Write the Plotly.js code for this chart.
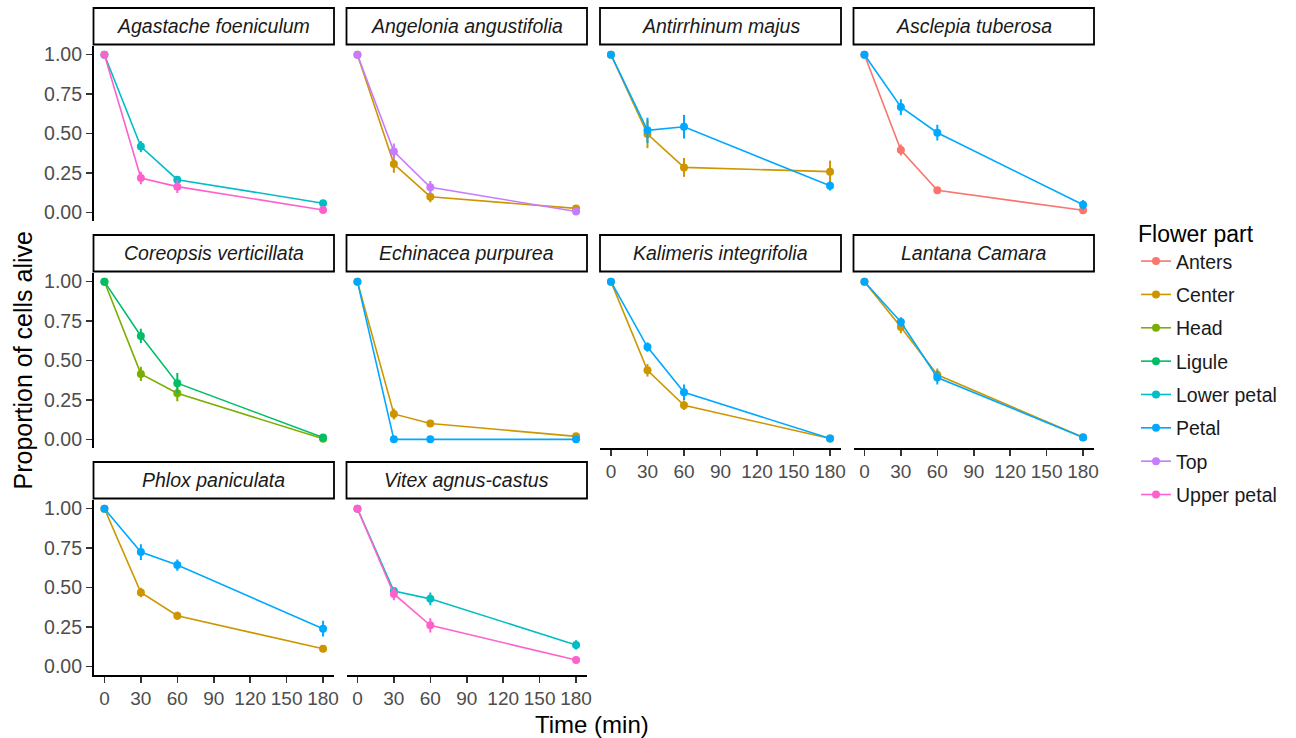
<!DOCTYPE html>
<html>
<head>
<meta charset="utf-8">
<script src="https://cdn.plot.ly/plotly-3.0.1.min.js"></script>
<style>
  html, body { margin: 0; padding: 0; background: #ffffff; }
  #chart { width: 1296px; height: 738px; }
</style>
</head>
<body>
<div id="chart"></div>
<script>
// Survival of cells over time, one facet per plant species, one line per flower part.
const timesMin = [0, 30, 60, 180];
const xTickVals = [0, 30, 60, 90, 120, 150, 180];
const yTickVals = [0, 0.25, 0.5, 0.75, 1];
const yTickText = ['0.00', '0.25', '0.50', '0.75', '1.00'];

const parts = ['Anters', 'Center', 'Head', 'Ligule', 'Lower petal', 'Petal', 'Top', 'Upper petal'];
const partColors = ['#F8766D', '#CD9600', '#7CAE00', '#00BE67', '#00BFC4', '#00A9FF', '#C77CFF', '#FF61CC'];

const species = [
  'Agastache foeniculum', 'Angelonia angustifolia', 'Antirrhinum majus', 'Asclepia tuberosa',
  'Coreopsis verticillata', 'Echinacea purpurea', 'Kalimeris integrifolia', 'Lantana Camara',
  'Phlox paniculata', 'Vitex agnus-castus'
];

// Mean proportion of cells alive and its standard error, per species and flower part
const agastacheLowerPetal = [1, 0.417, 0.207, 0.058];
const agastacheLowerPetalSe = [0, 0.035, 0.02, 0.015];
const agastacheUpperPetal = [1, 0.218, 0.163, 0.015];
const agastacheUpperPetalSe = [0, 0.04, 0.04, 0.01];

const angeloniaCenter = [1, 0.306, 0.099, 0.025];
const angeloniaCenterSe = [0, 0.055, 0.035, 0.01];
const angeloniaTop = [1, 0.386, 0.159, 0.005];
const angeloniaTopSe = [0, 0.05, 0.04, 0.01];

const antirrhinumCenter = [1, 0.497, 0.285, 0.258];
const antirrhinumCenterSe = [0, 0.09, 0.06, 0.07];
const antirrhinumPetal = [1, 0.52, 0.543, 0.168];
const antirrhinumPetalSe = [0, 0.08, 0.075, 0.03];

const asclepiaAnters = [1, 0.395, 0.14, 0.013];
const asclepiaAntersSe = [0, 0.035, 0.015, 0.01];
const asclepiaPetal = [1, 0.668, 0.505, 0.048];
const asclepiaPetalSe = [0, 0.05, 0.05, 0.03];

const coreopsisHead = [1, 0.415, 0.292, 0.003];
const coreopsisHeadSe = [0, 0.045, 0.05, 0.01];
const coreopsisLigule = [1, 0.656, 0.356, 0.012];
const coreopsisLiguleSe = [0, 0.045, 0.065, 0.01];

const echinaceaCenter = [1, 0.161, 0.10, 0.019];
const echinaceaCenterSe = [0, 0.035, 0.015, 0.01];
const echinaceaPetal = [1, 0.0, 0.0, 0.0];
const echinaceaPetalSe = [0, 0, 0, 0];

const kalimerisCenter = [1, 0.438, 0.216, 0.005];
const kalimerisCenterSe = [0, 0.04, 0.03, 0.005];
const kalimerisPetal = [1, 0.585, 0.298, 0.005];
const kalimerisPetalSe = [0, 0.03, 0.05, 0.005];

const lantanaCenter = [1, 0.713, 0.409, 0.013];
const lantanaCenterSe = [0, 0.04, 0.04, 0.005];
const lantanaPetal = [1, 0.744, 0.392, 0.012];
const lantanaPetalSe = [0, 0.03, 0.045, 0.005];

const phloxCenter = [1, 0.468, 0.321, 0.111];
const phloxCenterSe = [0, 0.03, 0.025, 0.01];
const phloxPetal = [1, 0.725, 0.642, 0.239];
const phloxPetalSe = [0, 0.05, 0.035, 0.05];

const vitexLowerPetal = [1, 0.478, 0.428, 0.136];
const vitexLowerPetalSe = [0, 0.02, 0.04, 0.03];
const vitexUpperPetal = [1, 0.459, 0.26, 0.04];
const vitexUpperPetalSe = [0, 0.04, 0.045, 0.01];

// [species index, flower part, means, standard errors]
const seriesList = [
  [0, 'Lower petal', agastacheLowerPetal, agastacheLowerPetalSe],
  [0, 'Upper petal', agastacheUpperPetal, agastacheUpperPetalSe],
  [1, 'Center', angeloniaCenter, angeloniaCenterSe],
  [1, 'Top', angeloniaTop, angeloniaTopSe],
  [2, 'Center', antirrhinumCenter, antirrhinumCenterSe],
  [2, 'Petal', antirrhinumPetal, antirrhinumPetalSe],
  [3, 'Anters', asclepiaAnters, asclepiaAntersSe],
  [3, 'Petal', asclepiaPetal, asclepiaPetalSe],
  [4, 'Head', coreopsisHead, coreopsisHeadSe],
  [4, 'Ligule', coreopsisLigule, coreopsisLiguleSe],
  [5, 'Center', echinaceaCenter, echinaceaCenterSe],
  [5, 'Petal', echinaceaPetal, echinaceaPetalSe],
  [6, 'Center', kalimerisCenter, kalimerisCenterSe],
  [6, 'Petal', kalimerisPetal, kalimerisPetalSe],
  [7, 'Center', lantanaCenter, lantanaCenterSe],
  [7, 'Petal', lantanaPetal, lantanaPetalSe],
  [8, 'Center', phloxCenter, phloxCenterSe],
  [8, 'Petal', phloxPetal, phloxPetalSe],
  [9, 'Lower petal', vitexLowerPetal, vitexLowerPetalSe],
  [9, 'Upper petal', vitexUpperPetal, vitexUpperPetalSe]
];

// ---- page geometry (pixels) ----
const W = 1296, H = 738;
const colSpans = [[93.5, 334], [346.5, 587], [600, 841], [853.5, 1094]];
const rowSpans = [[46, 221], [273, 448], [500, 675]];
const stripH = 36.5;
const FONT = 'Liberation Sans, Arial, sans-serif';
const fx = p => p / W;
const fy = p => 1 - p / H;

const nCols = 4;
const panelCount = species.length;
// panels that carry tick labels along the bottom / left
const hasXAxis = i => (i + nCols >= panelCount);
const hasYAxis = i => (i % nCols === 0);

const layout = {
  width: W, height: H,
  margin: {l: 0, r: 0, t: 0, b: 0},
  paper_bgcolor: '#ffffff',
  plot_bgcolor: '#ffffff',
  font: {family: FONT, color: '#000000'},
  showlegend: true,
  legend: {
    x: fx(1136), y: fy(212), xanchor: 'left', yanchor: 'top',
    title: {text: 'Flower part', font: {size: 23, family: FONT, color: '#000000'}},
    font: {size: 19.5, family: FONT, color: '#1a1a1a'},
    tracegroupgap: 5,
    itemwidth: 30,
    bgcolor: 'rgba(0,0,0,0)'
  },
  shapes: [],
  annotations: []
};

for (let i = 0; i < panelCount; i++) {
  const c = i % nCols, r = Math.floor(i / nCols);
  const sfx = i === 0 ? '' : String(i + 1);
  const [x0, x1] = colSpans[c];
  const [y0, y1] = rowSpans[r];
  const showX = hasXAxis(i), showY = hasYAxis(i);

  layout['xaxis' + sfx] = {
    domain: [fx(x0), fx(x1)],
    anchor: 'y' + sfx,
    range: [-9, 189],
    fixedrange: true,
    visible: showX,
    showline: showX, linecolor: '#000000', linewidth: 1.6,
    ticks: showX ? 'outside' : '', ticklen: 6, tickwidth: 1.6, tickcolor: '#333333',
    tickmode: 'array', tickvals: xTickVals, ticktext: xTickVals.map(String),
    tickfont: {size: 19, family: FONT, color: '#4d4d4d'},
    showgrid: false, zeroline: false
  };
  layout['yaxis' + sfx] = {
    domain: [fy(y1), fy(y0)],
    anchor: 'x' + sfx,
    range: [-0.055, 1.055],
    fixedrange: true,
    visible: showY,
    showline: showY, linecolor: '#000000', linewidth: 1.6,
    ticks: showY ? 'outside' : '', ticklen: 6, tickwidth: 1.6, tickcolor: '#333333',
    tickmode: 'array', tickvals: yTickVals, ticktext: yTickText,
    tickfont: {size: 19.5, family: FONT, color: '#4d4d4d'},
    showgrid: false, zeroline: false
  };

  // facet strip
  layout.shapes.push({
    type: 'rect', xref: 'paper', yref: 'paper',
    x0: fx(x0), x1: fx(x1), y0: fy(y0 - 1.5), y1: fy(y0 - 1.5 - stripH),
    line: {color: '#000000', width: 1.8}, fillcolor: '#ffffff', layer: 'above'
  });
  layout.annotations.push({
    xref: 'paper', yref: 'paper',
    x: fx((x0 + x1) / 2), y: fy(y0 - 1.5 - stripH / 2),
    xanchor: 'center', yanchor: 'middle', showarrow: false,
    text: '<i>' + species[i] + '</i>',
    font: {size: 19.5, family: FONT, color: '#1a1a1a'}
  });
}

// shared axis titles
layout.annotations.push({
  xref: 'paper', yref: 'paper',
  x: fx((colSpans[0][0] + colSpans[3][1]) / 2 - 2), y: fy(724),
  xanchor: 'center', yanchor: 'middle', showarrow: false,
  text: 'Time (min)', font: {size: 24, family: FONT, color: '#000000'}
});
layout.annotations.push({
  xref: 'paper', yref: 'paper',
  x: fx(22), y: fy((rowSpans[0][0] + rowSpans[2][1]) / 2),
  xanchor: 'center', yanchor: 'middle', showarrow: false, textangle: -90,
  text: 'Proportion of cells alive', font: {size: 25, family: FONT, color: '#000000'}
});

// traces: one per species x part, legend entry on first use of each part
const traces = [];
parts.forEach((part, pi) => {
  let first = true;
  seriesList.filter(s => s[1] === part).forEach(([si, , means, ses]) => {
    const sfx = si === 0 ? '' : String(si + 1);
    traces.push({
      type: 'scatter', mode: 'lines+markers',
      x: timesMin, y: means,
      xaxis: 'x' + sfx, yaxis: 'y' + sfx,
      name: part, legendgroup: part, showlegend: first,
      line: {color: partColors[pi], width: 1.6},
      marker: {color: partColors[pi], size: 8},
      error_y: {type: 'data', array: ses, visible: true, color: partColors[pi], thickness: 2, width: 0},
      hoverinfo: 'x+y+name'
    });
    first = false;
  });
});

Plotly.newPlot('chart', traces, layout, {displayModeBar: false, staticPlot: true});
</script>
</body>
</html>
